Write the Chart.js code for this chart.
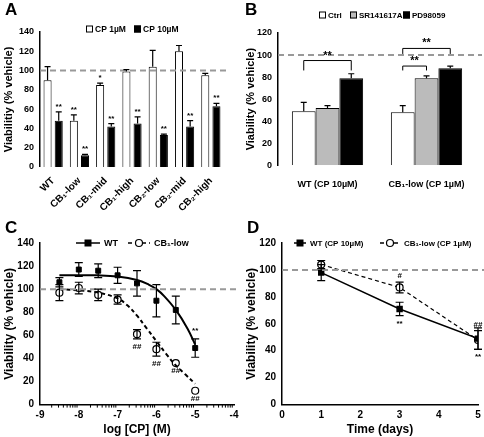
<!DOCTYPE html>
<html><head><meta charset="utf-8">
<script src="https://cdn.jsdelivr.net/npm/chart.js@4"></script>
<style>
body{margin:0;background:#fff;width:484px;height:437px;position:relative;font-family:"Liberation Sans",Arial,sans-serif;overflow:hidden}
.p{position:absolute}
.L{position:absolute;font-weight:bold;font-size:17px;font-family:"Liberation Sans",Arial;z-index:2}
</style></head><body>
<div class="L" style="left:5px;top:0px">A</div>
<div class="L" style="left:245px;top:0px">B</div>
<div class="L" style="left:5px;top:218px">C</div>
<div class="L" style="left:247px;top:218px">D</div>
<div class="p" style="left:0;top:0;width:242px;height:220px"><canvas id="a"></canvas></div>
<div class="p" style="left:242px;top:0;width:242px;height:196px"><canvas id="b"></canvas></div>
<div class="p" style="left:0;top:220px;width:242px;height:217px"><canvas id="c"></canvas></div>
<div class="p" style="left:242px;top:220px;width:242px;height:217px"><canvas id="d"></canvas></div>
<script>
// ---- Panel A data
const aCats=["WT","CB\u2081-low","CB\u2081-mid","CB\u2081-high","CB\u2082-low","CB\u2082-mid","CB\u2082-high"];
const aCP1=[90,48,85,99,104,120,95];
const aCP1err=[14,6,2,2,17,6,2];
const aCP10=[48,12,42,45,33,42,63];
const aCP10err=[9,1,3,7,1,6,3];
const aCP1stars=["","**","*","","","",""];
const aCP10stars=["**","**","**","**","**","**","**"];
// ---- Panel B data
const bCats=["WT (CP 10\u00b5M)","CB\u2081-low (CP 1\u00b5M)"];
const bCtrl=[49,48],bCtrlErr=[8,6];
const bSR=[52,79],bSRErr=[2,2];
const bPD=[79,88],bPDErr=[4,2];
// ---- Panel C data
const cX=[-8.5,-8,-7.5,-7,-6.5,-6,-5.5,-5];
const cWT=[106,117,116,112,105,90,82,49];
const cWTerr=[4,6,6,7,11,14,12,8];
const cCB=[97,101,95,91,61,48,36,12];
const cCBerr=[7,5,5,4,4,6,0,0];
const cWTfitX=[-8.5,-8,-7.5,-7,-6.5,-6.2,-6,-5.8,-5.5,-5.2,-5];
const cWTfitY=[112,112,112,111,108,104,100,94,82,66,52];
const cCBfitX=[-8.5,-8,-7.5,-7,-6.75,-6.5,-6.25,-6,-5.75,-5.5,-5.25,-5];
const cCBfitY=[100,99,97,92,86,77,66,55,44,34,26,18];
const cCBmarks=["","","","","##","##","##","##"];
// ---- Panel D data
const dX=[1,3,5];
const dWT=[98,71,49],dWTerr=[6,5,8];
const dCB=[104,87,48],dCBerr=[3,4,7];

const FF='"Liberation Sans",Arial,sans-serif';
Chart.defaults.font.family=FF;
Chart.defaults.color='#000';
Chart.defaults.animation=false;
Chart.defaults.devicePixelRatio=1;

function marker(ctx,type,x,y){ctx.lineWidth=1.2;ctx.strokeStyle='#000';
 if(type==='rect'){ctx.fillStyle='#000';ctx.fillRect(x-3.5,y-3.5,7,7);}
 else{ctx.fillStyle='#fff';ctx.beginPath();ctx.arc(x,y,3.5,0,7);ctx.fill();ctx.stroke();}}

const plug={id:'extra',
afterDatasetsDraw(ch){
 const o=ch.options.plugins.extra||{};const ctx=ch.ctx;const ys=ch.scales.y;
 ctx.save();
 if(o.ref!==undefined){ctx.strokeStyle='#999';ctx.lineWidth=2;ctx.setLineDash([6,4]);
  const y=ys.getPixelForValue(o.ref);ctx.beginPath();ctx.moveTo(ch.chartArea.left,y);ctx.lineTo(ch.chartArea.right+6,y);ctx.stroke();ctx.setLineDash([]);}
 ch.data.datasets.forEach((ds,i)=>{
  if(!ds.err)return;const m=ch.getDatasetMeta(i);
  ctx.strokeStyle='#000';ctx.lineWidth=1.2;
  m.data.forEach((el,j)=>{const e=ds.err[j];if(!e)return;const v=ds.data[j];const val=typeof v==='object'?v.y:v;
   const yt=ys.getPixelForValue(val+e),yb=ys.getPixelForValue(val-e);const x=el.x;const cw=ds.cap||3;
   ctx.beginPath();ctx.moveTo(x,yt);ctx.lineTo(x,ds.up?el.y:yb);ctx.moveTo(x-cw,yt);ctx.lineTo(x+cw,yt);
   if(!ds.up){ctx.moveTo(x-cw,yb);ctx.lineTo(x+cw,yb);}ctx.stroke();});
  if(ds.marks){ctx.font='bold 8px '+FF;ctx.textAlign='center';ctx.fillStyle='#000';
   m.data.forEach((el,j)=>{const t=ds.marks[j];if(!t)return;const v=ds.data[j];const val=typeof v==='object'?v.y:v;
    const e=ds.err[j]||0;const y=ds.markBelow?ys.getPixelForValue(val-e)+10:ys.getPixelForValue(val+e)-(ds.markOff||3);ctx.fillText(t,el.x+(ds.markDx||0),y);});}
 });
 if(o.brackets){ctx.strokeStyle='#000';ctx.lineWidth=1;ctx.font='bold 11px '+FF;ctx.textAlign='center';ctx.fillStyle='#000';
  o.brackets.forEach(b=>{const x1=ch.getDatasetMeta(b[0]).data[b[1]].x,x2=ch.getDatasetMeta(b[2]).data[b[3]].x;
   const yt=ys.getPixelForValue(b[4]),y1=ys.getPixelForValue(b[5]),y2=ys.getPixelForValue(b[6]);
   ctx.beginPath();ctx.moveTo(x1,y1);ctx.lineTo(x1,yt);ctx.lineTo(x2,yt);ctx.lineTo(x2,y2);ctx.stroke();
   ctx.fillText('**',(x1+x2)/2,yt-2);});}
 if(o.minor){const xs=ch.scales.x;const yb=ch.chartArea.bottom;ctx.strokeStyle='#000';ctx.lineWidth=1;
  for(let d=-9;d<-4;d++)for(let k=2;k<10;k++){const x=xs.getPixelForValue(d+Math.log10(k));ctx.beginPath();ctx.moveTo(x,yb);ctx.lineTo(x,yb+3);ctx.stroke();}}
 if(o.legend){o.legend.forEach(it=>{
  ctx.font='bold '+(it.fs||9)+'px '+FF;ctx.textAlign='left';ctx.textBaseline='middle';
  if(it.type==='box'){ctx.fillStyle=it.fill;ctx.fillRect(it.x,it.y-3.5,7,7);ctx.strokeStyle='#000';ctx.lineWidth=1;ctx.strokeRect(it.x+.5,it.y-3,6,6);
   ctx.fillStyle='#000';ctx.fillText(it.text,it.x+9,it.y+0.5);}
  else{ctx.strokeStyle='#000';ctx.lineWidth=1.5;ctx.setLineDash(it.dash||[]);ctx.beginPath();ctx.moveTo(it.x,it.y);ctx.lineTo(it.x+it.w,it.y);ctx.stroke();ctx.setLineDash([]);
   marker(ctx,it.marker,it.x+it.w/2,it.y);ctx.fillStyle='#000';ctx.fillText(it.text,it.x+it.w+4,it.y+0.5);}});}
 ctx.restore();}};
Chart.register(plug);

function yAxis(max,step,title,w,fs,tfs){return{min:0,max:max,border:{color:'#000',width:1.5},grid:{display:false,drawTicks:true,tickLength:4,tickColor:'#000'},
 ticks:{stepSize:step,font:{size:fs,weight:'bold'},padding:2},title:{display:true,text:title,font:{size:tfs,weight:'bold'},padding:2},
 afterFit(s){s.width=w;}};}

new Chart(document.getElementById('a'),{type:'bar',
 data:{labels:aCats,datasets:[
  {label:'CP 1\u00b5M',data:aCP1,err:aCP1err,up:true,marks:aCP1stars,backgroundColor:'#fff',borderColor:'#000',borderWidth:1,barPercentage:0.72,categoryPercentage:0.85},
  {label:'CP 10\u00b5M',data:aCP10,err:aCP10err,up:true,marks:aCP10stars,backgroundColor:'#000',borderColor:'#000',borderWidth:1,barPercentage:0.72,categoryPercentage:0.85}]},
 options:{responsive:true,maintainAspectRatio:false,layout:{padding:{right:18,top:32,bottom:6}},
  plugins:{legend:{display:false},tooltip:{enabled:false},extra:{ref:100,legend:[
   {type:'box',x:86,y:29,fill:'#fff',text:'CP 1\u00b5M',fs:8.5},{type:'box',x:134,y:29,fill:'#000',text:'CP 10\u00b5M',fs:8.5}]}},
  scales:{x:{border:{display:false},grid:{display:false},ticks:{minRotation:45,maxRotation:45,font:{size:10,weight:'bold'},padding:0}},
   y:yAxis(140,20,'Viabilitiy (% vehicle)',40,9,11)}}});

new Chart(document.getElementById('b'),{type:'bar',
 data:{labels:bCats,datasets:[
  {label:'Ctrl',data:bCtrl,err:bCtrlErr,up:true,backgroundColor:'#fff',borderColor:'#000',borderWidth:1,barPercentage:1,categoryPercentage:0.72},
  {label:'SR141617A',data:bSR,err:bSRErr,up:true,backgroundColor:'#bbb',borderColor:'#000',borderWidth:1,barPercentage:1,categoryPercentage:0.72},
  {label:'PD98059',data:bPD,err:bPDErr,up:true,backgroundColor:'#000',borderColor:'#000',borderWidth:1,barPercentage:1,categoryPercentage:0.72}]},
 options:{responsive:true,maintainAspectRatio:false,layout:{padding:{right:8,top:33}},
  plugins:{legend:{display:false},tooltip:{enabled:false},
   extra:{ref:100,brackets:[[0,0,2,0,95,86,86],[0,1,1,1,90,86,86],[0,1,2,1,106,101,101]],legend:[
    {type:'box',x:77,y:15,fill:'#fff',text:'Ctrl',fs:8},{type:'box',x:108,y:15,fill:'#bbb',text:'SR141617A',fs:8},{type:'box',x:161,y:15,fill:'#000',text:'PD98059',fs:8}]}},
  scales:{x:{border:{display:false},grid:{display:false},ticks:{font:{size:9,weight:'bold'},padding:6}},
   y:yAxis(120,20,'Viability (% vehicle)',36,9,11)}}});

function pts(xs,ys){return xs.map((x,i)=>({x:x,y:ys[i]}));}
const xTitlePad={top:1,bottom:0};
new Chart(document.getElementById('c'),{type:'scatter',
 data:{datasets:[
  {label:'fitWT',data:pts(cWTfitX,cWTfitY),showLine:true,pointRadius:0,borderColor:'#000',borderWidth:2,tension:0.4},
  {label:'fitCB',data:pts(cCBfitX,cCBfitY),showLine:true,pointRadius:0,borderColor:'#000',borderWidth:2,borderDash:[4,3],tension:0.4},
  {label:'WT',data:pts(cX,cWT),err:cWTerr,cap:4,marks:["","","","","","","","**"],markOff:6,pointStyle:'rect',pointRadius:3.5,backgroundColor:'#000',borderColor:'#000',showLine:false},
  {label:'CB\u2081-low',data:pts(cX,cCB),err:cCBerr,cap:4,marks:cCBmarks,markBelow:true,pointStyle:'circle',pointRadius:3.5,backgroundColor:'#fff',borderColor:'#000',borderWidth:1.2,showLine:false}]},
 options:{responsive:true,maintainAspectRatio:false,layout:{padding:{right:8,top:23,bottom:0}},
  plugins:{legend:{display:false},tooltip:{enabled:false},extra:{ref:100,minor:true,legend:[
   {type:'line',x:76,y:23,w:24,marker:'rect',text:'WT'},{type:'line',x:128,y:23,w:22,dash:[4,3],marker:'circle',text:'CB\u2081-low'}]}},
  scales:{x:{type:'linear',min:-9,max:-4,border:{color:'#000',width:1.5},grid:{display:false,drawTicks:true,tickLength:5,tickColor:'#000'},ticks:{stepSize:1,font:{size:10,weight:'bold'},padding:0},
    title:{display:true,text:'log [CP] (M)',font:{size:12,weight:'bold'},padding:xTitlePad}},
   y:yAxis(140,20,'Viability (% vehicle)',40,10,12)}}});

new Chart(document.getElementById('d'),{type:'scatter',
 data:{datasets:[
  {label:'WT (CP 10\u00b5M)',data:pts(dX,dWT),err:dWTerr,cap:4,marks:["","**","**"],markBelow:true,pointStyle:'rect',pointRadius:3.5,backgroundColor:'#000',borderColor:'#000',showLine:true,borderWidth:1.5},
  {label:'CB\u2081-low (CP 1\u00b5M)',data:pts(dX,dCB),err:dCBerr,cap:4,marks:["","#","##"],markOff:4,pointStyle:'circle',pointRadius:3.5,backgroundColor:'#fff',borderColor:'#000',borderWidth:1.2,borderDash:[4,3],showLine:true}]},
 options:{responsive:true,maintainAspectRatio:false,layout:{padding:{right:6,top:23,bottom:0}},
  plugins:{legend:{display:false},tooltip:{enabled:false},extra:{ref:100,legend:[
   {type:'line',x:52,y:23,w:12,marker:'rect',text:'WT (CP 10\u00b5M)',fs:8},{type:'line',x:138,y:23,w:20,dash:[4,3],marker:'circle',text:'CB\u2081-low (CP 1\u00b5M)',fs:8}]}},
  scales:{x:{type:'linear',min:0,max:5,border:{color:'#000',width:1.5},grid:{display:false,drawTicks:true,tickLength:5,tickColor:'#000'},ticks:{stepSize:1,font:{size:10,weight:'bold'},padding:0},
    title:{display:true,text:'Time (days)',font:{size:12,weight:'bold'},padding:xTitlePad}},
   y:yAxis(120,20,'Viability (% vehicle)',40,10,12)}}});
</script></body></html>
